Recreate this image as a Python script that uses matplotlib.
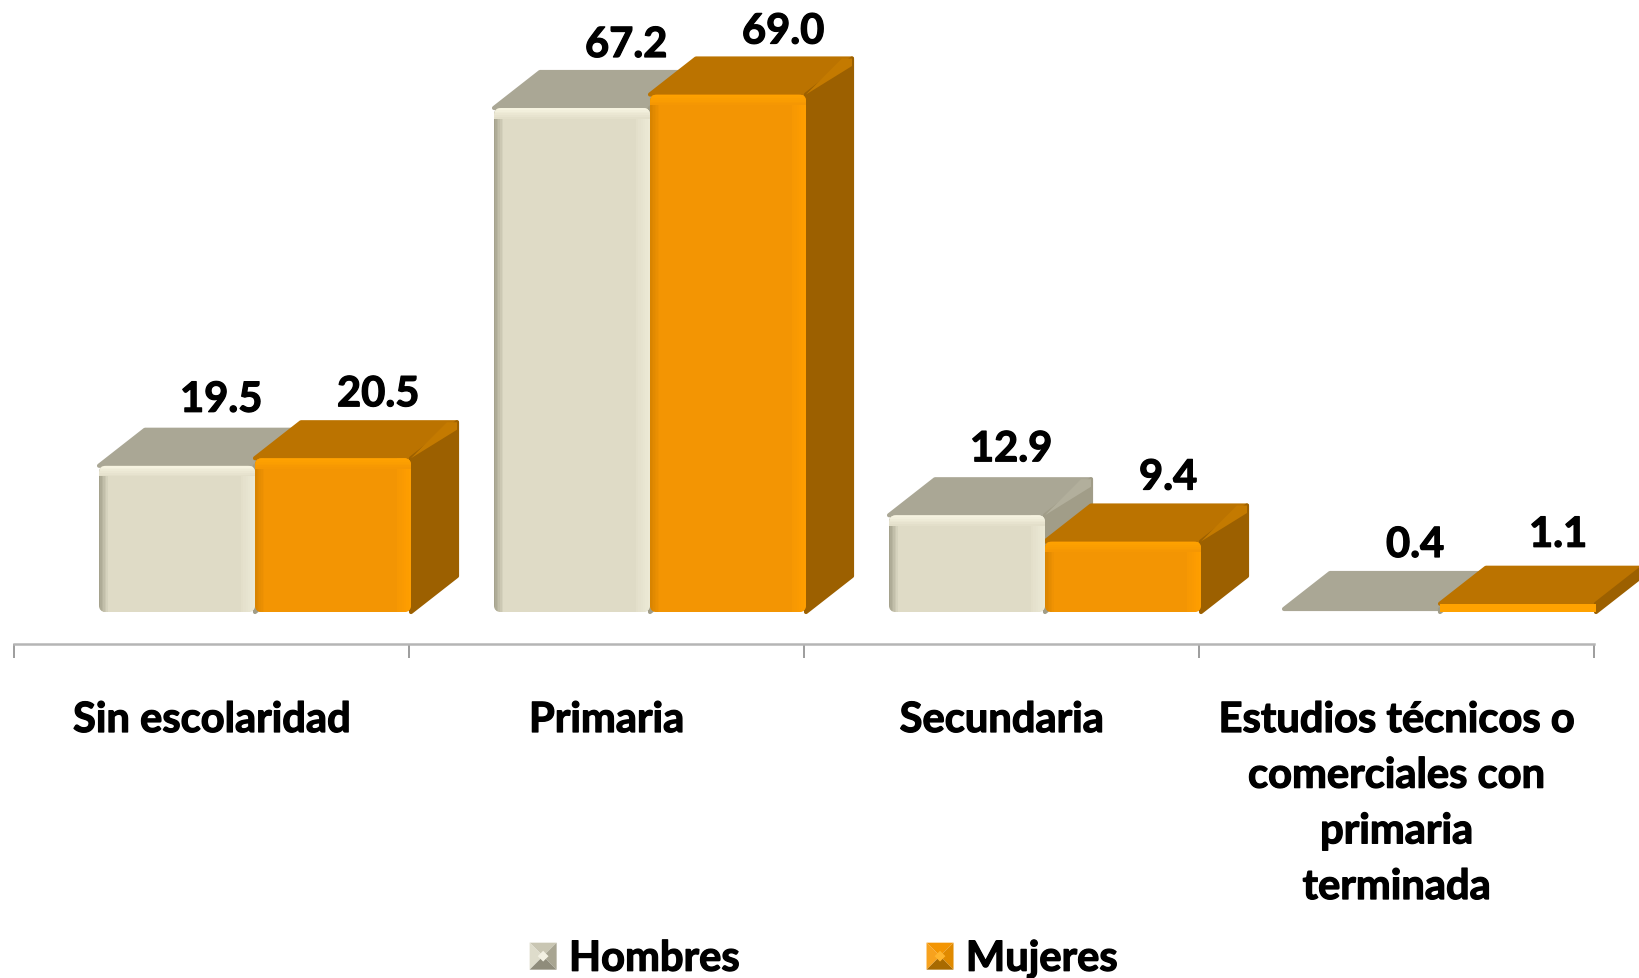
import numpy as np
import matplotlib
matplotlib.use("Agg")
import matplotlib.pyplot as plt
import matplotlib.patheffects as pe
from matplotlib.colors import to_rgb
from matplotlib.legend_handler import HandlerBase
from matplotlib.patches import FancyBboxPatch, Patch, Polygon

categorias = ["Sin escolaridad", "Primaria", "Secundaria",
              "Estudios técnicos o\ncomerciales con\nprimaria\nterminada"]
hombres = [19.5, 67.2, 12.9, 0.4]
mujeres = [20.5, 69.0, 9.4, 1.1]
series = ["Hombres", "Mujeres"]

plt.rcParams['font.family'] = ['Lato', 'DejaVu Sans']
W, H = 1640, 979

# escalas: 395 px por categoria, 7.5 px por unidad de valor
PX_X = 395.0
PX_Y = 7.5
fig = plt.figure(figsize=(W / 100, H / 100), dpi=100)
ax = fig.add_axes([0, 0, 1, 1])
ax.set_xlim(-14 / PX_X, (W - 14) / PX_X)
ax.set_ylim(-(H - 613) / PX_Y, 613 / PX_Y)

# colores de cada serie
gris = dict(front="#dfdbc6", top="#aaa795", side="#a19d88", band="#f6f3e0",
            right="#ece9d5", left="#a5a28d", rim="#b2af9c")
naranja = dict(front="#f39503", top="#bb7300", side="#9c6000", band="#ffa200",
               right="#ff9e00", left="#d98400", rim="#c47a00")

dx = 46 / PX_X
dy = 36 / PX_Y
ancho = 156 / PX_X
grueso = [pe.withStroke(linewidth=0.9, foreground='black')]


def mezcla(a, b, t):
    return tuple((1 - t) * np.array(to_rgb(a)) + t * np.array(to_rgb(b)))


def caja(x0, v, c):
    x1 = x0 + ancho
    # cara superior y cara lateral
    sup = [(x0, v), (x1, v), (x1 + dx, v + dy), (x0 + dx, v + dy)]
    lat = [(x1, 0), (x1 + dx, dy), (x1 + dx, v + dy), (x1, v)]
    for pts, col in ((sup, c["top"]), (lat, c["side"])):
        ax.add_patch(Polygon(pts, closed=True, fc=col, ec=col, lw=3, joinstyle='round', zorder=3))
    if v < 2:
        # barra muy baja: solo un filo
        if c is naranja:
            ax.bar(x0, v, width=ancho, align='edge', color=c["band"], zorder=4)
        return
    # arista entre la cara superior y la lateral, mas ancha hacia el fondo
    ax.add_patch(Polygon([(x1, v), (x1 + dx * 0.78, v + dy), (x1 + dx, v + dy), (x1 + dx, v + dy - 1.0), (x1, v)],
                         closed=True, fc=c["rim"], ec='none', zorder=3))
    # contorno redondeado de la cara frontal, recorta los biseles
    r = 7
    marco = FancyBboxPatch((x0, 0), ancho, v, boxstyle=f"round,pad=0,rounding_size={r / PX_X}",
                           mutation_aspect=PX_X / PX_Y, fc=c["front"], ec='none', zorder=4)
    ax.add_patch(marco)
    piezas = []
    n = 6
    for k in range(n):
        t = k / n
        w = 9 / PX_X / n
        piezas += ax.bar(x0 + k * w, v, width=w, align='edge', color=mezcla(c["left"], c["front"], t), zorder=5)
        w2 = 14 / PX_X / n
        piezas += ax.bar(x1 - (k + 1) * w2, v, width=w2, align='edge',
                         color=mezcla(c["right"], c["front"], t * 0.85), zorder=5)
        h = 1.4 / n
        piezas += ax.bar(x0, h, bottom=v - (k + 1) * h, width=ancho, align='edge',
                         color=mezcla(c["band"], c["front"], t), zorder=6)
    for p in piezas:
        p.set_clip_path(marco)


# ajuste fino de las etiquetas, en px (x, y hacia arriba)
ajuste_h = [(0, 0), (10, -3), (0, 0), (9, -2)]
ajuste_m = [(1, -2), (11, -3), (1, -2), (-4, 3)]

for i in range(len(categorias)):
    x0 = i + 85 / PX_X
    caja(x0, hombres[i], gris)
    caja(x0 + ancho, mujeres[i], naranja)
    # etiquetas de valor
    for j, (v, aj) in enumerate(((hombres[i], ajuste_h[i]), (mujeres[i], ajuste_m[i]))):
        ax.annotate(f"{v:.1f}", (x0 + ancho * (j + 0.5), v + dy),
                    xytext=((44 + aj[0]) * 0.72, (30 + aj[1]) * 0.72),
                    textcoords='offset points', ha='center', va='center',
                    fontsize=30, fontweight='bold', color='black', zorder=8, path_effects=grueso)
    ax.text(i + 0.5, -(702 - 613) / PX_Y, categorias[i], ha='center', va='top', fontsize=30,
            fontweight='bold', linespacing=1.57, color='black', path_effects=grueso)

# eje
y_eje = -(645 - 613) / PX_Y
for s in ('top', 'left', 'right'):
    ax.spines[s].set_visible(False)
ax.spines['bottom'].set_position(('data', y_eje))
ax.spines['bottom'].set_bounds(0, 4)
ax.spines['bottom'].set_color('#b5b5b5')
ax.spines['bottom'].set_linewidth(1.8)
ax.set_xticks(range(len(categorias) + 1))
ax.set_xticklabels([])
ax.set_yticks([])
ax.tick_params(axis='x', length=10, width=1.2, color='#8c8c8c', direction='out')
ax.patch.set_visible(False)


# muestra de la leyenda con forma de piramide
class Piramide(HandlerBase):
    def create_artists(self, legend, orig, xd, yd, w, h, fs, trans):
        c = orig.colores
        s = 27 * 0.72
        x = (w - s) / 2 - xd
        y = (h - s) / 2 - yd
        mx, my = x + s / 2, y + s / 2
        a, b, d, e = (x, y), (x + s, y), (x + s, y + s), (x, y + s)
        m = (mx, my)
        caras = [([e, d, m], c[0]), ([a, e, m], c[1]), ([b, d, m], c[2]), ([a, b, m], c[3])]
        r = s * 0.2
        caras.append(([(mx - r, my), (mx, my + r), (mx + r, my), (mx, my - r)], c[4]))
        return [Polygon(p, closed=True, fc=col, ec='none', transform=trans) for p, col in caras]


h1 = Patch(label=series[0])
h1.colores = ("#c9c6b3", "#dedccb", "#a8a592", "#8f8c7b", "#f2f0e2")
h2 = Patch(label=series[1])
h2.colores = ("#f39503", "#f7a21e", "#e08a00", "#a86a00", "#ffb52e")
leg = ax.legend(handles=[h1, h2], handler_map={Patch: Piramide()}, ncol=2, frameon=False,
                loc='center', bbox_to_anchor=(821 / W, 1 - 960 / H),
                handlelength=0.9, handletextpad=0.17, columnspacing=4.36,
                prop=dict(family=['Lato', 'DejaVu Sans'], weight='bold', size=30))
for t in leg.get_texts():
    t.set_path_effects(grueso)

fig.savefig("out.png", dpi=100, facecolor='white')
